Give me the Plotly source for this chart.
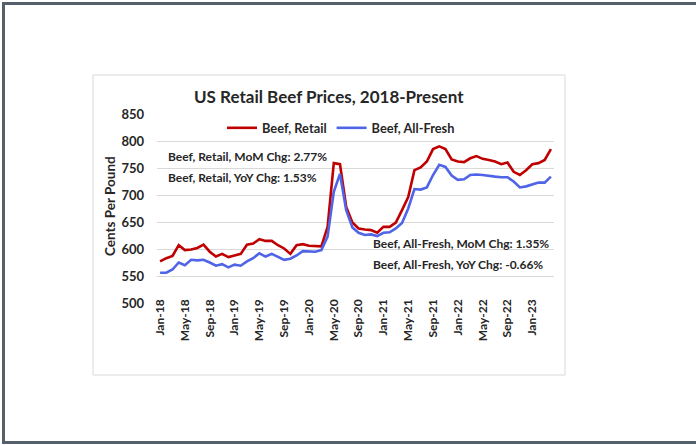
import plotly.graph_objects as go

# ---- data (cents per pound), monthly Jan-2018 .. Apr-2023 ----
month_index = list(range(64))
beef_retail = [577, 583, 587, 607, 598, 599, 602, 608, 595, 586, 591, 585,
               588, 591, 608, 610, 618, 615, 615, 607, 601, 591, 607, 609,
               606, 605, 605, 641, 759, 757, 678, 649, 638, 636, 635, 630,
               641, 641, 649, 672, 696, 746, 751, 762, 785, 790, 785, 766,
               762, 761, 768, 772, 767, 765, 762, 757, 760, 743, 737, 746,
               757, 759, 765, 785]
beef_all_fresh = [556, 556, 562, 575, 570, 580, 579, 580, 575, 569, 572, 566,
                  571, 569, 577, 583, 592, 586, 591, 585, 580, 582, 588, 596,
                  595, 595, 598, 623, 706, 739, 672, 640, 630, 626, 627, 624,
                  630, 631, 638, 648, 675, 711, 710, 714, 737, 756, 752, 736,
                  728, 729, 737, 738, 737, 735, 734, 733, 733, 725, 714, 716,
                  720, 723, 723, 734]
tick_positions = [0, 4, 8, 12, 16, 20, 24, 28, 32, 36, 40, 44, 48, 52, 56, 60]
tick_labels = ["Jan-18", "May-18", "Sep-18", "Jan-19", "May-19", "Sep-19",
               "Jan-20", "May-20", "Sep-20", "Jan-21", "May-21", "Sep-21",
               "Jan-22", "May-22", "Sep-22", "Jan-23"]
y_ticks = [500, 550, 600, 650, 700, 750, 800, 850]
notes_retail = ["Beef, Retail, MoM Chg: 2.77%", "Beef, Retail, YoY Chg: 1.53%"]
notes_fresh = ["Beef, All-Fresh, MoM Chg: 1.35%", "Beef, All-Fresh, YoY Chg: -0.66%"]

W, H = 696, 445
PL, PR, PT, PB = 157, 554, 114, 303   # plot area in pixels


def px(x):
    return (x - PL) / (PR - PL)


def py(y):
    return (PB - y) / (PB - PT)


FONT = "Lato"
TXT = "#262626"

fig = go.Figure()
fig.add_trace(go.Scatter(x=month_index, y=beef_retail, mode="lines",
                         name="<b>Beef, Retail</b>",
                         line=dict(color="#c00000", width=2.6)))
fig.add_trace(go.Scatter(x=month_index, y=beef_all_fresh, mode="lines",
                         name="<b>Beef, All-Fresh</b>",
                         line=dict(color="#4f64e6", width=2.6)))

shapes = [
    # chart box
    dict(type="rect", xref="paper", yref="paper", x0=px(93), x1=px(565),
         y0=py(375), y1=py(75), line=dict(color="#d9d9d9", width=1), layer="below"),
    # outer frame
    dict(type="line", xref="paper", yref="paper", x0=px(3.5), x1=px(3.5),
         y0=py(2), y1=py(444), line=dict(color="#56606b", width=3)),
    dict(type="line", xref="paper", yref="paper", x0=px(2), x1=px(700),
         y0=py(3.5), y1=py(3.5), line=dict(color="#56606b", width=3)),
    dict(type="line", xref="paper", yref="paper", x0=px(2), x1=px(700),
         y0=py(442.5), y1=py(442.5), line=dict(color="#56606b", width=3)),
]

annotations = [
    dict(text="<b>US Retail Beef Prices, 2018-Present</b>", xref="paper", yref="paper",
         x=px(329), y=py(97), xanchor="center", yanchor="middle", showarrow=False,
         font=dict(family=FONT, size=17, color=TXT)),
    dict(text="<b>Cents Per Pound</b>", xref="paper", yref="paper",
         x=px(110), y=py(206), xanchor="center", yanchor="middle", showarrow=False,
         textangle=-90, font=dict(family=FONT, size=13.5, color=TXT)),
]
for t, yy in zip(notes_retail, [156, 177]):
    annotations.append(dict(text="<b>" + t + "</b>", xref="paper", yref="paper",
                            x=px(166), y=py(yy), xanchor="left", yanchor="middle",
                            showarrow=False, font=dict(family=FONT, size=12, color=TXT)))
for t, yy in zip(notes_fresh, [243, 264]):
    annotations.append(dict(text="<b>" + t + "</b>", xref="paper", yref="paper",
                            x=px(371), y=py(yy), xanchor="left", yanchor="middle",
                            showarrow=False, font=dict(family=FONT, size=12, color=TXT)))

fig.update_layout(
    width=W, height=H,
    margin=dict(l=PL, r=W - PR, t=PT, b=H - PB),
    paper_bgcolor="white", plot_bgcolor="white",
    font=dict(family=FONT, color=TXT),
    showlegend=True,
    legend=dict(orientation="h", x=px(222), y=py(128), xanchor="left", yanchor="middle",
                font=dict(family=FONT, size=12.8, color=TXT), itemwidth=30,
                bgcolor="rgba(0,0,0,0)", tracegroupgap=0),
    xaxis=dict(range=[-0.5, 63.5], tickmode="array", tickvals=tick_positions,
               ticktext=["<b>" + s + "</b>" for s in tick_labels], tickangle=-90,
               showgrid=False, zeroline=False, showline=False, ticks="",
               ticklabelstandoff=-7,
               tickfont=dict(family=FONT, size=12, color=TXT), fixedrange=True),
    yaxis=dict(range=[500, 850], tickmode="array", tickvals=y_ticks,
               ticktext=["<b>%d</b>" % v for v in y_ticks],
               showgrid=True, gridcolor="#d9d9d9", gridwidth=1, zeroline=False,
               showline=False, ticks="", ticklabelstandoff=12,
               tickfont=dict(family=FONT, size=13, color=TXT), fixedrange=True),
    shapes=shapes, annotations=annotations,
)

fig.write_html("out.html")
